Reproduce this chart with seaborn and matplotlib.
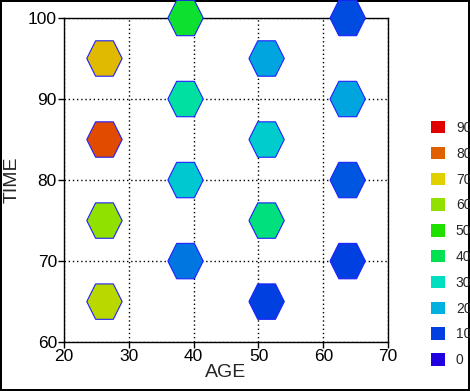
import numpy as np
import pandas as pd
import seaborn as sns
import matplotlib.pyplot as plt
from matplotlib.colors import LinearSegmentedColormap
from matplotlib.patches import Patch


# Data
age = [26.25, 26.25, 26.25, 26.25,
       38.75, 38.75, 38.75, 38.75,
       51.25, 51.25, 51.25, 51.25,
       63.75, 63.75, 63.75, 63.75]
time = [65, 75, 85, 95,
        70, 80, 90, 100,
        65, 75, 85, 95,
        70, 80, 90, 100]
value = [65, 60, 82, 72,
         15, 25, 33, 44,
         10, 36, 26, 19,
         10, 12, 19, 11]

levels = [90, 80, 70, 60, 50, 40, 30, 20, 10, 0]
level_colors = ["#e00000", "#e06000", "#e0d000", "#90e000", "#20e000",
                "#00e050", "#00e0c0", "#00b0e0", "#0040e0", "#2000e0"]

df = pd.DataFrame({"AGE": age, "TIME": time, "value": value})

cmap = LinearSegmentedColormap.from_list(
    "ramp", [(l / 90, c) for l, c in zip(levels[::-1], level_colors[::-1])])

# flat-topped hexagon, a bit taller than a regular one
hexagon = [(-1, 0), (-0.5, 1), (0.5, 1), (1, 0), (0.5, -1), (-0.5, -1), (-1, 0)]

sns.set_style("white")
plt.rcParams["font.family"] = ["Liberation Sans", "DejaVu Sans"]

fig = plt.figure(figsize=(4.7, 3.91), dpi=100, linewidth=1.5, edgecolor="black")
ax = fig.add_axes([0.136, 0.125, 0.69, 0.829])

sns.scatterplot(data=df, x="AGE", y="TIME", hue="value", palette=cmap,
                hue_norm=(0, 90), marker=hexagon, s=650, edgecolor="#2020ff",
                linewidth=0.8, legend=False, clip_on=False, zorder=3, ax=ax)

ax.set_xlim(20, 70)
ax.set_ylim(60, 100)
ax.set_xticks([20, 30, 40, 50, 60, 70])
ax.set_yticks([60, 70, 80, 90, 100])
ax.grid(True, linestyle=(0, (1, 2)), color="black", linewidth=1)
ax.tick_params(direction="out", length=4, width=1, labelsize=12.5, colors="black",
               left=True, bottom=True, pad=1)
for sp in ax.spines.values():
    sp.set_color("black")
    sp.set_linewidth(1)
ax.set_xlabel("AGE", fontsize=14, labelpad=0)
ax.set_ylabel("TIME", fontsize=14, labelpad=5)

handles = [Patch(facecolor=c, edgecolor="none") for c in level_colors]
fig.legend(handles, [str(l) for l in levels], loc="upper left",
           bbox_to_anchor=(0.905, 0.705), frameon=False, fontsize=10,
           handlelength=1.0, handleheight=1.0, handletextpad=0.8,
           labelspacing=0.85, borderaxespad=0)

fig.savefig("out.png", dpi=100)
